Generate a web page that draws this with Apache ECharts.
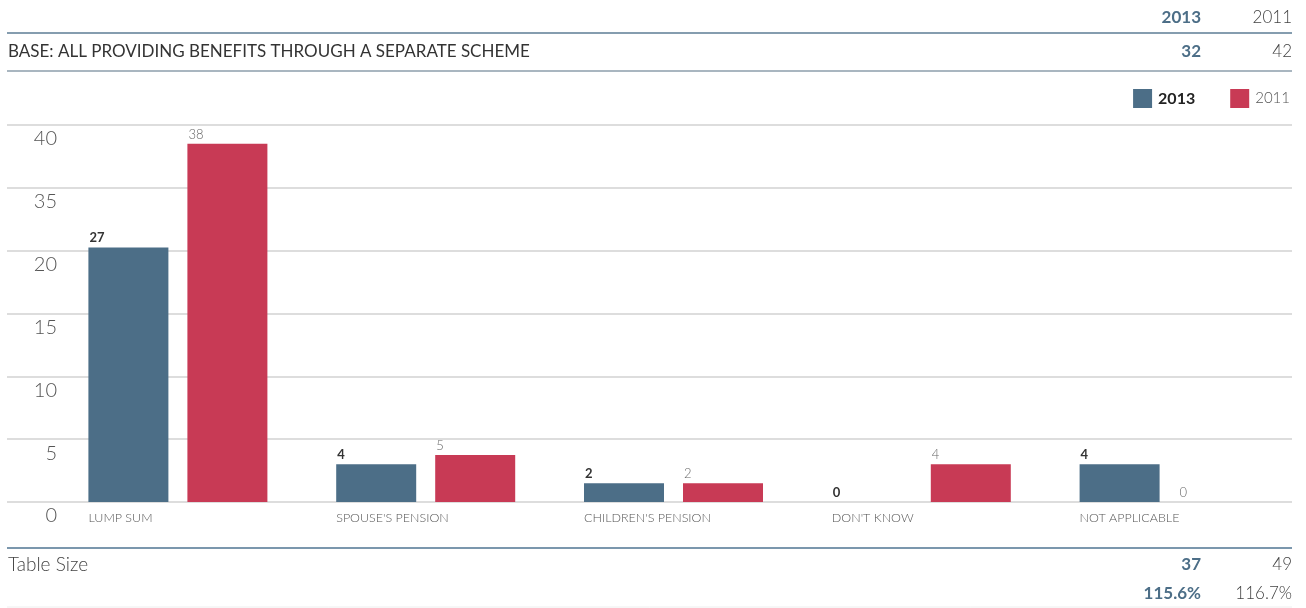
<!DOCTYPE html>
<html>
<head>
<meta charset="utf-8">
<script src="https://cdn.jsdelivr.net/npm/echarts@6/dist/echarts.min.js"></script>
<style>
  html, body { margin: 0; padding: 0; background: #fff; }
  #chart { width: 1306px; height: 608px; }
</style>
</head>
<body>
<div id="chart"></div>
<script>
// ---- data ----
const categories = ['LUMP SUM', "SPOUSE'S PENSION", "CHILDREN'S PENSION", "DON'T KNOW", 'NOT APPLICABLE'];
const values2013 = [27, 4, 2, 0, 4];
const values2011 = [38, 5, 2, 4, 0];
const seriesNames = ['2013', '2011'];
const yTickLabels = ['0', '5', '10', '15', '20', '35', '40'];
const baseLabel = 'BASE: ALL PROVIDING BENEFITS THROUGH A SEPARATE SCHEME';
const baseValues = ['32', '42'];
const tableSizeLabel = 'Table Size';
const tableSizeValues = ['37', '49'];
const percentValues = ['115.6%', '116.7%'];

// ---- style ----
const BLUE = '#4c6e87';
const RED = '#c83a55';
const FONT = 'Lato, "Open Sans", sans-serif';
const Y_MAX = 40;
const Y_STEP = Y_MAX / (yTickLabels.length - 1);

const chart = echarts.init(document.getElementById('chart'));

function rowText(x, y, text, align, opts) {
  return {
    type: 'text', x: x, y: y,
    style: Object.assign({
      text: text, align: align, verticalAlign: 'middle',
      fontFamily: FONT, fontSize: 17, fill: '#444', fontWeight: 300
    }, opts || {})
  };
}
function rule(y, color, width) {
  return { type: 'line', shape: { x1: 7, y1: y, x2: 1292, y2: y },
           style: { stroke: color, lineWidth: width } };
}

const COL1 = 1201, COL2 = 1292;

chart.setOption({
  animation: false,
  textStyle: { fontFamily: FONT },
  legend: {
    data: seriesNames,
    right: 16, top: 89, padding: 0,
    itemWidth: 19, itemHeight: 19, itemGap: 35,
    icon: 'rect',
    formatter: n => n === '2013' ? '{b|' + n + '}' : '{n|' + n + '}',
    textStyle: {
      rich: {
        b: { fontFamily: FONT, fontSize: 16, fontWeight: 'bold', color: '#222', padding: [0, 0, 0, 1] },
        n: { fontFamily: FONT, fontSize: 15, fontWeight: 300, color: '#555', padding: [0, 0, 0, 1] }
      }
    }
  },
  grid: [
    { left: 7, right: 14, top: 125, bottom: 106 },
    { left: 54, right: 13, top: 125, bottom: 106 }
  ],
  xAxis: [
    { gridIndex: 0, type: 'value', show: false, min: 0, max: 1 },
    {
      gridIndex: 1, type: 'category', data: categories,
      axisLine: { show: false }, axisTick: { show: false },
      axisLabel: {
        margin: 9, interval: 0,
        formatter: v => '{c|' + v + '}',
        rich: { c: { width: 179, align: 'left', fontFamily: FONT, fontSize: 12.5, color: '#555', fontWeight: 300 } }
      }
    }
  ],
  yAxis: [
    {
      gridIndex: 0, type: 'value', min: 0, max: Y_MAX, interval: Y_STEP,
      axisLine: { show: false }, axisTick: { show: false }, axisLabel: { show: false },
      splitLine: { show: true, lineStyle: { color: '#d2d2d2', width: 1.5 } }
    },
    {
      gridIndex: 1, type: 'value', min: 0, max: Y_MAX, interval: Y_STEP,
      axisLine: { show: false }, axisTick: { show: false },
      splitLine: { show: false },
      axisLabel: {
        margin: -3, verticalAlign: 'top', padding: [4, 0, 0, 0],
        fontFamily: FONT, fontSize: 20, fontWeight: 300, color: '#555',
        formatter: v => yTickLabels[Math.round(v / Y_STEP)]
      }
    }
  ],
  series: [
    {
      name: seriesNames[0], type: 'bar', xAxisIndex: 1, yAxisIndex: 1,
      data: values2013, barWidth: 80, barGap: '23.75%',
      itemStyle: { color: BLUE },
      label: {
        show: true, position: [1, -3], verticalAlign: 'bottom', align: 'left',
        fontFamily: FONT, fontSize: 13, fontWeight: 'bold', color: '#333'
      }
    },
    {
      name: seriesNames[1], type: 'bar', xAxisIndex: 1, yAxisIndex: 1,
      data: values2011, barWidth: 80,
      itemStyle: { color: RED },
      label: {
        show: true, position: [1, -3], verticalAlign: 'bottom', align: 'left',
        fontFamily: FONT, fontSize: 13, fontWeight: 300, color: '#666'
      }
    }
  ],
  graphic: [
    rowText(COL1, 18, seriesNames[0], 'right', { fill: BLUE, fontWeight: 'bold' }),
    rowText(COL2, 18, seriesNames[1], 'right'),
    rule(33, '#5d7d95', 1.5),
    rowText(8, 52, baseLabel, 'left', { fontSize: 17, fill: '#333', fontWeight: 'normal' }),
    rowText(COL1, 52, baseValues[0], 'right', { fill: BLUE, fontWeight: 'bold' }),
    rowText(COL2, 52, baseValues[1], 'right'),
    rule(71, '#8d9eab', 1.5),
    rule(548, '#4f7592', 1.5),
    rowText(8, 565, tableSizeLabel, 'left', { fontSize: 19 }),
    rowText(COL1, 565, tableSizeValues[0], 'right', { fill: BLUE, fontWeight: 'bold' }),
    rowText(COL2, 565, tableSizeValues[1], 'right'),
    rowText(COL1, 594, percentValues[0], 'right', { fill: BLUE, fontWeight: 'bold' }),
    rowText(COL2, 594, percentValues[1], 'right'),
    rule(607, '#eeeeee', 1)
  ]
});
</script>
</body>
</html>
